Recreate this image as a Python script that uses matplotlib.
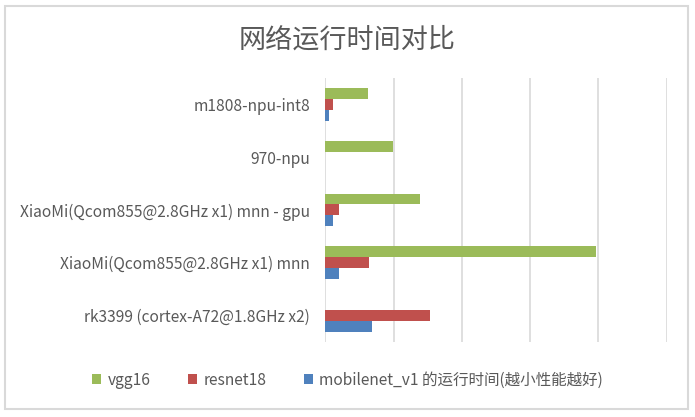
import numpy as np
import matplotlib.pyplot as plt
from matplotlib.patches import Rectangle

plt.rcParams['font.family'] = ['Noto Sans CJK SC', 'DejaVu Sans']

# categories, bottom to top as they appear on the chart
categories = ['rk3399 (cortex-A72@1.8GHz x2)',
              'XiaoMi(Qcom855@2.8GHz x1) mnn',
              'XiaoMi(Qcom855@2.8GHz x1) mnn - gpu',
              '970-npu',
              'm1808-npu-int8']
vgg16 = [0, 396, 139, 99, 63]
resnet18 = [154, 64, 20, 0, 12]
mobilenet_v1 = [69, 20, 11, 0, 5]

series_names = ['vgg16', 'resnet18', 'mobilenet_v1 的运行时间(越小性能越好)']
colors = ['#9BBB59', '#C0504D', '#4F81BD']
txt = '#595959'

fig = plt.figure(figsize=(6.95, 4.17), dpi=100)
ax = fig.add_axes([0.468, 0.180, 0.491, 0.633])

y = np.arange(len(categories))
h = 0.207
# vgg16 on top in each group, mobilenet at the bottom
for k, (vals, c) in enumerate(zip([vgg16, resnet18, mobilenet_v1], colors)):
    ax.barh(y + (1 - k) * h, vals, height=h, color=c, label=series_names[k], zorder=3)

ax.set_xlim(0, 500)
ax.set_ylim(-0.5, len(categories) - 0.5)
ax.set_xticks(np.arange(0, 501, 100))
ax.set_xticklabels([])
ax.tick_params(axis='x', length=0)
ax.tick_params(axis='y', length=0, pad=11, labelsize=11.2, labelcolor=txt)
ax.set_yticks(y)
ax.set_yticklabels(categories)
ax.grid(axis='x', color='#D9D9D9', linewidth=1.2, zorder=0)
for s in ax.spines.values():
    s.set_visible(False)

fig.text(0.5, 0.905, '网络运行时间对比', ha='center', va='center', fontsize=19.5, color=txt)

handles, labels = ax.get_legend_handles_labels()
fig.legend(handles, labels, loc='center', bbox_to_anchor=(0.5, 0.088), ncol=3, frameon=False,
           fontsize=11.2, labelcolor=txt, handlelength=0.6, handleheight=0.6,
           handletextpad=0.4, columnspacing=2.4)

# light border round the whole chart
fig.patches.append(Rectangle((5 / 695, 8 / 417), 683 / 695, 403 / 417, transform=fig.transFigure,
                             fill=False, edgecolor='#D9D9D9', linewidth=1.5))

fig.savefig('out.png', dpi=100)
